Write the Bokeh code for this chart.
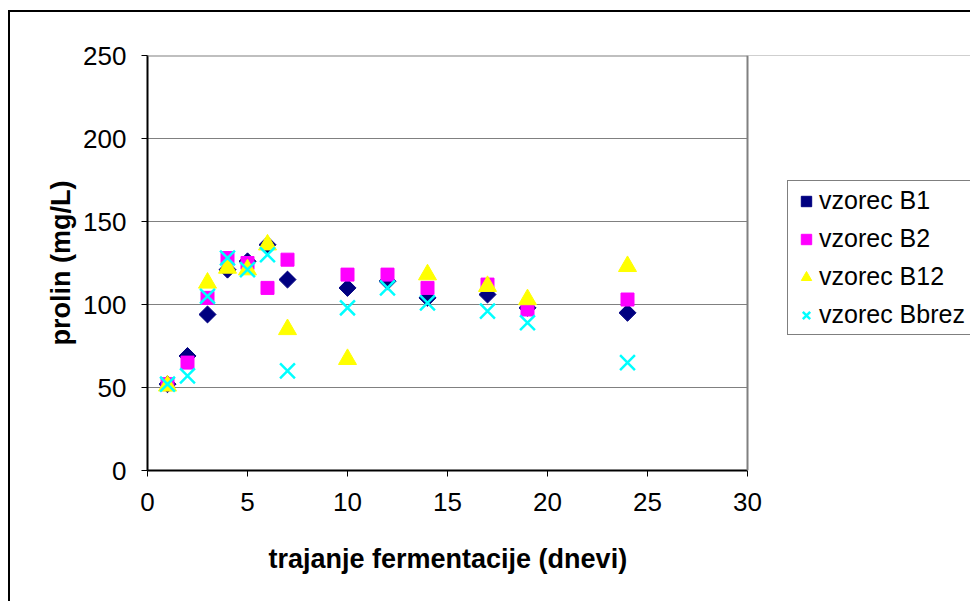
import numpy as np
from bokeh.plotting import figure
from bokeh.models import (Range1d, FixedTicker, Legend, LegendItem, ColumnDataSource,
                          BoxAnnotation, Span, Title)
from bokeh.embed import file_html
from bokeh.resources import INLINE

# ---- data ----
days = [1, 2, 3, 4, 5, 6, 7, 10, 12, 14, 17, 19, 24]
vzorec_B1 = [52, 69, 94, 121, 126, 136, 115, 110, 114, 104, 106, 98, 95]
vzorec_B2 = [52, 65, 104, 128, 125, 110, 127, 118, 118, 110, 112, 97, 103]
vzorec_B12 = [51, np.nan, 113, 122, 121, 136, 85, 67, np.nan, 118, 111, 103, 123]
vzorec_Bbrez = [52, 57, 105, 128, 121, 130, 60, 98, 110, 101, 96, 89, 65]
series_names = ["vzorec B1", "vzorec B2", "vzorec B12", "vzorec Bbrez"]
x_ticks = [0, 5, 10, 15, 20, 25, 30]
y_ticks = [0, 50, 100, 150, 200, 250]
x_title = "trajanje fermentacije (dnevi)"
y_title = "prolin (mg/L)"
X_MIN, X_MAX = 0, 30
Y_MIN, Y_MAX = 0, 250

FONT = "Liberation Sans"
GREY = "#808080"

W, H = 960, 589
LEFT, RIGHT_PLOT = 137, 737       # plot-area edges in figure pixels
TOP, BOTTOM = 43, 465
# the frame extends to the right edge so the legend (drawn inside it) is not clipped
x_end = X_MAX * (W - LEFT) / (RIGHT_PLOT - LEFT)

p = figure(width=W, height=H, output_backend="svg", toolbar_location=None,
           x_range=Range1d(X_MIN, x_end), y_range=Range1d(Y_MIN, Y_MAX),
           min_border_left=LEFT, min_border_right=0,
           min_border_top=TOP, min_border_bottom=H - BOTTOM,
           margin=(12, 0, 0, 10),
           styles={"outline": "2px solid black"})

p.background_fill_color = "white"
p.border_fill_color = "white"
p.outline_line_color = None

p.xgrid.grid_line_color = None
p.ygrid.grid_line_color = GREY
p.ygrid.grid_line_width = 1

p.xaxis.ticker = FixedTicker(ticks=x_ticks)
p.yaxis.ticker = FixedTicker(ticks=y_ticks)
p.xaxis.bounds = (X_MIN, X_MAX)
for ax in (p.xaxis, p.yaxis):
    ax.axis_line_color = "black"
    ax.axis_line_width = 2
    ax.major_tick_line_color = "black"
    ax.major_tick_in = 0
    ax.major_tick_out = 6
    ax.minor_tick_line_color = None
    ax.major_label_text_font = FONT
    ax.major_label_text_font_size = "26px"
    ax.major_label_text_color = "black"
    ax.axis_label_text_font = FONT
    ax.axis_label_text_font_size = "27px"
    ax.axis_label_text_font_style = "bold"
    ax.axis_label_text_color = "black"

p.yaxis.axis_label = y_title
p.xaxis.major_label_standoff = 16
p.yaxis.major_label_standoff = 15
p.yaxis.axis_label_standoff = 4

# x-axis title centred under the plot area (0..30), not under the whole frame
p.add_layout(Title(text=x_title, align="left", offset=121, standoff=56,
                   text_font=FONT, text_font_size="27px", text_font_style="bold",
                   text_color="black"), "below")

src = ColumnDataSource(dict(x=days, b1=vzorec_B1, b2=vzorec_B2, b12=vzorec_B12, bb=vzorec_Bbrez))

r1 = p.scatter("x", "b1", source=src, marker="square", size=12, angle=np.pi / 4,
               fill_color="#000080", line_color="#000080")
r2 = p.scatter("x", "b2", source=src, marker="square", size=13,
               fill_color="#FF00FF", line_color="#FF00FF")
r3 = p.scatter("x", "b12", source=src, marker="triangle", size=18,
               fill_color="#FFFF00", line_color="#FFFF00")
r4 = p.scatter("x", "bb", source=src, marker="x", size=21, line_width=2.5,
               line_color="#00FFFF")

# plot-area border (top), mask right of the plot area, plot-area border (right)
p.add_layout(Span(location=Y_MAX, dimension="width", line_color=GREY, line_width=2))
p.add_layout(BoxAnnotation(left=X_MAX, fill_color="white", fill_alpha=1, line_color=None))
p.add_layout(Span(location=X_MAX, dimension="height", line_color=GREY, line_width=2))

legend = Legend(items=[LegendItem(label=series_names[0], renderers=[r1]),
                       LegendItem(label=series_names[1], renderers=[r2]),
                       LegendItem(label=series_names[2], renderers=[r3]),
                       LegendItem(label=series_names[3], renderers=[r4])],
                location=(640, 135))
legend.label_text_font = FONT
legend.label_text_font_size = "25px"
legend.label_text_color = "black"
legend.border_line_color = "black"
legend.border_line_width = 1
legend.background_fill_color = "white"
legend.background_fill_alpha = 1
legend.padding = 5
legend.spacing = 9
legend.margin = 0
legend.glyph_width = 26
legend.glyph_height = 26
legend.label_standoff = 0
p.add_layout(legend)

open("out.html", "w").write(file_html(p, INLINE))
